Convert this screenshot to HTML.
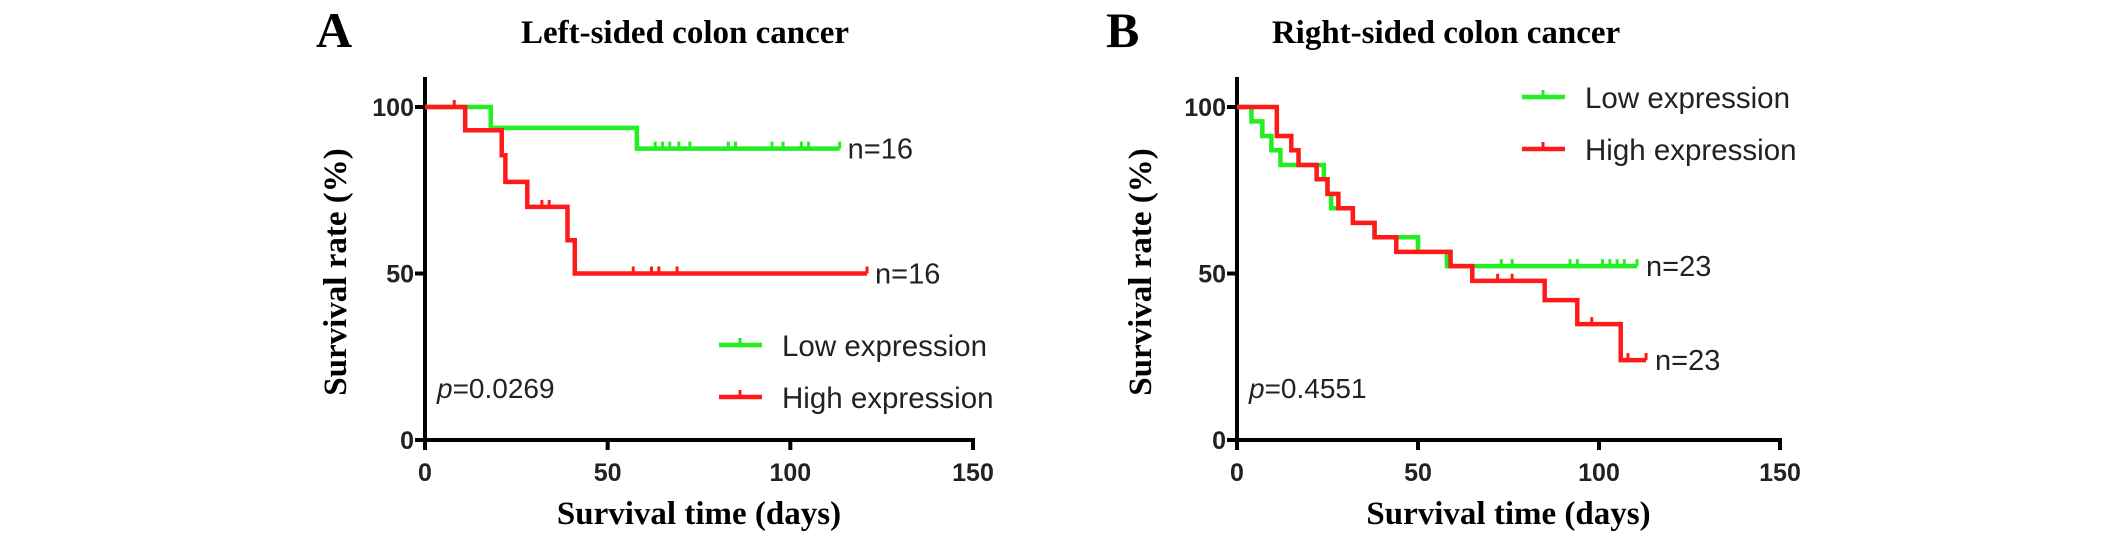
<!DOCTYPE html>
<html><head><meta charset="utf-8"><style>
html,body{margin:0;padding:0;background:#fff;}
svg{display:block;}
.ttl{font-family:"Liberation Serif",serif;font-weight:bold;}
.sans{font-family:"Liberation Sans",sans-serif;}
</style></head><body>
<svg id="fig" width="2126" height="541" viewBox="0 0 2126 541">
<text class="ttl" x="316" y="47" font-size="50">A</text>
<text class="ttl" x="685" y="43" font-size="33" text-anchor="middle">Left-sided colon cancer</text>
<text class="ttl" x="1106" y="47" font-size="50">B</text>
<text class="ttl" x="1446" y="43" font-size="33" text-anchor="middle">Right-sided colon cancer</text>
</svg>
<script>
// Panel A data
const aLowSteps = [[0,100],[18,93.75],[58,87.5]];
const aLowEnd = 113.5;
const aLowCensor = [63,65,67,69.5,72.5,83,85,95,98,103,105];
const aHighSteps = [[0,100],[11,93],[21,85.5],[22,77.5],[28,70],[39,60],[41,50]];
const aHighEnd = 121;
const aHighCensor = [8,32,34,57,62,64,69];
// Panel B data
const bLowSteps = [[0,100],[4,95.7],[7,91.3],[9.5,87],[12,82.6],[24,78.3],[25,73.9],[26,69.6],[32,65.2],[38,60.9],[50,56.5],[58,52.2]];
const bLowEnd = 110.5;
const bLowCensor = [73,76,92,94,101,103,105,107];
const bHighSteps = [[0,100],[11,91.3],[15,87],[17,82.6],[22,78.3],[25,73.9],[28,69.6],[32,65.2],[38,60.9],[44,56.5],[59,52.2],[65,47.8],[85,42],[94,34.8],[106,24]];
const bHighEnd = 113;
const bHighCensor = [72,76,98,108];
const xTicks = [0,50,100,150];
const yTicks = [0,50,100];

const svg = document.getElementById('fig');
const NS = 'http://www.w3.org/2000/svg';
function mk(tag, attrs, txt){const e=document.createElementNS(NS,tag);for(const k in attrs)e.setAttribute(k,attrs[k]);if(txt!==undefined)e.textContent=txt;svg.appendChild(e);return e;}

function panel(id, x0, x150, low, lowEnd, lowC, high, highEnd, highC, pText, nText, nGap, legX, legY, yTitleX, pPos){
  const y0=440, y100=107;
  const X=d=>x0+(x150-x0)*d/150;
  const Y=v=>y0-(y0-y100)*v/100;
  let e=mk('line',{x1:x0,y1:y100-30,x2:x0,y2:y0+2,stroke:'#000','stroke-width':4});
  
  
  e=mk('line',{x1:x0-2,y1:y0,x2:x150+2,y2:y0,stroke:'#000','stroke-width':4});
  
  
  xTicks.forEach(t=>{
    mk('line',{x1:X(t),y1:y0,x2:X(t),y2:y0+10,stroke:'#000','stroke-width':4});
    const l=mk('text',{x:X(t),y:y0+41,'font-size':25,'text-anchor':'middle','class':'sans','font-weight':'bold',fill:'#222'},t);
    
    
  });
  yTicks.forEach(t=>{
    mk('line',{x1:x0-10,y1:Y(t),x2:x0,y2:Y(t),stroke:'#000','stroke-width':4});
    const l=mk('text',{x:x0-11,y:Y(t)+9,'font-size':25,'text-anchor':'end','class':'sans','font-weight':'bold',fill:'#222'},t);
    
    
  });
  let t=mk('text',{x:(x0+x150)/2,y:524,'font-size':33,'text-anchor':'middle','class':'ttl'},'Survival time (days)');
  
  
  t=mk('text',{x:0,y:0,'font-size':33,'text-anchor':'middle','class':'ttl',transform:`translate(${yTitleX},272) rotate(-90)`},'Survival rate (%)');
  
  
  const valAt=(steps,dd)=>{let v=steps[0][1];steps.forEach(s=>{if(s[0]<=dd)v=s[1];});return v;};
  function curve(steps,end,cens,color,name){
    let d=`M${X(steps[0][0])},${Y(steps[0][1])}`;
    for(let i=1;i<steps.length;i++){d+=` H${X(steps[i][0])} V${Y(steps[i][1])}`;}
    d+=` H${X(end)}`;
    const p=mk('path',{d:d,fill:'none',stroke:color,'stroke-width':4.5});
    
    
    cens.concat([end]).forEach(c=>{
      const m=mk('line',{x1:X(c),y1:Y(valAt(steps,c))-7,x2:X(c),y2:Y(valAt(steps,c)),stroke:color,'stroke-width':3});
      
      
    });
  }
  curve(low,lowEnd,lowC,'#22ee22',id+'-low-expression-curve');
  curve(high,highEnd,highC,'#ff1a1a',id+'-high-expression-curve');
  t=mk('text',{x:X(lowEnd)+nGap,y:Y(valAt(low,lowEnd))+10,'font-size':29,'class':'sans',fill:'#222'},nText);
  
  
  t=mk('text',{x:X(highEnd)+nGap,y:Y(valAt(high,highEnd))+10,'font-size':29,'class':'sans',fill:'#222'},nText);
  
  
  t=mk('text',{x:pPos[0],y:pPos[1],'font-size':28,'class':'sans',fill:'#222'});
  t.innerHTML='<tspan font-style="italic">p</tspan>='+pText;
  
  
  [['Low expression','#22ee22',0],['High expression','#ff1a1a',52]].forEach(([lab,col,dy])=>{
    const ly=legY+dy;
    const l=mk('line',{x1:legX,y1:ly,x2:legX+43,y2:ly,stroke:col,'stroke-width':4.5});
    
    
    mk('line',{x1:legX+21,y1:ly-7,x2:legX+21,y2:ly,stroke:col,'stroke-width':3});
    const tx=mk('text',{x:legX+63,y:ly+11,'font-size':29.5,'class':'sans',fill:'#222'},lab);
    
    
  });
}
panel('a',425,973,aLowSteps,aLowEnd,aLowCensor,aHighSteps,aHighEnd,aHighCensor,'0.0269','n=16',8,719,345,346,[437,398]);
panel('b',1237,1780,bLowSteps,bLowEnd,bLowCensor,bHighSteps,bHighEnd,bHighCensor,'0.4551','n=23',9,1522,97,1151,[1249,398]);
</script>
</body></html>
